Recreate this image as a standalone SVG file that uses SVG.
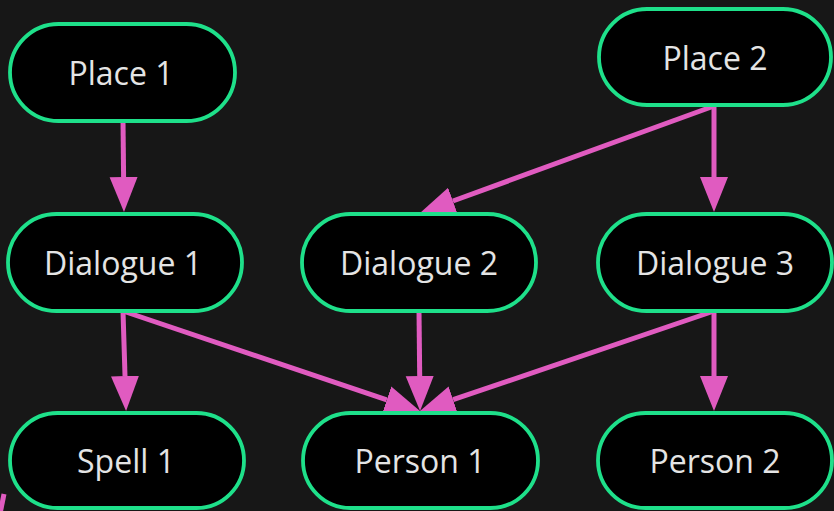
<svg xmlns="http://www.w3.org/2000/svg" width="834" height="511" viewBox="0 0 834 511">
<style>
.node rect{fill:#000;stroke:#1ee08a;stroke-width:3.8}
.node text{fill:#e4e4e4;font-family:"Open Sans","Noto Sans",sans-serif;font-size:32px;text-anchor:middle;dominant-baseline:central}
.edge{stroke:#e05bc0;stroke-width:5;fill:none}
</style>
<defs>
<marker id="ah" markerUnits="userSpaceOnUse" markerWidth="36" markerHeight="30" viewBox="0 -15 36 30" refX="0" refY="0" orient="auto">
<path d="M0,-14 L35,0 L0,14 Z" fill="#e05bc0"/>
</marker>
</defs>
<rect width="834" height="511" fill="#171717"/>
<g id="connectors">
<line class="edge" x1="123" y1="121" x2="123.6" y2="177" marker-end="url(#ah)"/>
<line class="edge" x1="714" y1="106" x2="452.9" y2="201" marker-end="url(#ah)"/>
<line class="edge" x1="714" y1="106" x2="714" y2="177" marker-end="url(#ah)"/>
<line class="edge" x1="123" y1="311" x2="125" y2="376" marker-end="url(#ah)"/>
<line class="edge" x1="123" y1="311" x2="386.8" y2="399.8" marker-end="url(#ah)"/>
<line class="edge" x1="419" y1="311" x2="419.7" y2="376" marker-end="url(#ah)"/>
<line class="edge" x1="714" y1="311" x2="453.1" y2="399.7" marker-end="url(#ah)"/>
<line class="edge" x1="714" y1="311" x2="714" y2="376" marker-end="url(#ah)"/>
<line class="edge" x1="0" y1="514" x2="4" y2="494"/>
</g>
<g id="place1" class="node"><rect x="10" y="24" width="225" height="97" rx="48.5"/><text x="121" y="72.5">Place 1</text></g>
<g id="place2" class="node"><rect x="599" y="9" width="232" height="96" rx="48"/><text x="715" y="57">Place 2</text></g>
<g id="dialogue1" class="node"><rect x="8" y="214" width="234" height="97" rx="48.5"/><text x="123" y="262.5">Dialogue 1</text></g>
<g id="dialogue2" class="node"><rect x="302" y="214" width="234" height="97" rx="48.5"/><text x="419" y="262.5">Dialogue 2</text></g>
<g id="dialogue3" class="node"><rect x="598" y="214" width="234" height="97" rx="48.5"/><text x="715" y="262.5">Dialogue 3</text></g>
<g id="spell1" class="node"><rect x="10" y="413" width="234" height="95" rx="47.5"/><text x="126" y="460.5">Spell 1</text></g>
<g id="person1" class="node"><rect x="303" y="413" width="235" height="95" rx="47.5"/><text x="420" y="460.5">Person 1</text></g>
<g id="person2" class="node"><rect x="598" y="413" width="234" height="95" rx="47.5"/><text x="715" y="460.5">Person 2</text></g>
</svg>
